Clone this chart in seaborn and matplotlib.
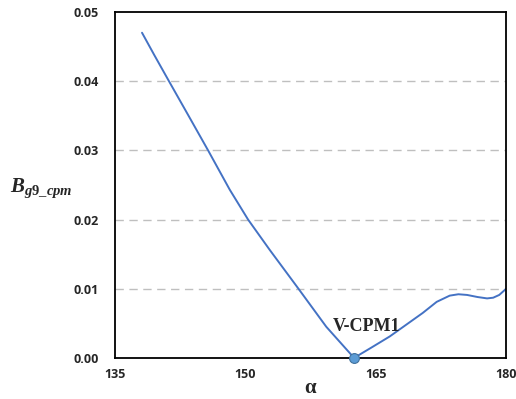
import pandas as pd
import matplotlib
matplotlib.use("Agg")
import matplotlib.pyplot as plt
import seaborn as sns

# values
alpha = [138.1, 139.5, 141.2, 143.5, 145.7, 148.2, 150.3, 152.8, 156.1,
         159.3, 162.5, 164.5, 166.6, 168.5, 170.4, 172.0, 173.5, 174.5, 175.5,
         176.7, 177.8, 178.5, 179.2, 180.0]
b_g9 = [0.0470, 0.0438, 0.0400, 0.0349, 0.0300, 0.0243, 0.0200, 0.0156, 0.0100,
        0.0045, 0.0000, 0.0015, 0.0031, 0.0048, 0.0065, 0.0081, 0.0090, 0.0092,
        0.0091, 0.0088, 0.0086, 0.0087, 0.0091, 0.0100]
min_alpha = [162.5]
min_b = [0.0]
x_ticks = [135, 150, 165, 180]
y_ticks = [0.00, 0.01, 0.02, 0.03, 0.04, 0.05]

df = pd.DataFrame({'alpha': alpha, 'B': b_g9})

sns.set_style('white')
plt.rcParams['font.family'] = ['Open Sans', 'DejaVu Sans']
plt.rcParams['mathtext.fontset'] = 'custom'
plt.rcParams['mathtext.it'] = 'Liberation Serif:italic:bold'
plt.rcParams['mathtext.rm'] = 'Liberation Serif:bold'
plt.rcParams['mathtext.bf'] = 'Liberation Serif:bold'

fig = plt.figure(figsize=(5.16, 3.99), dpi=100)
ax = fig.add_axes([0.223, 0.103, 0.758, 0.867])

sns.lineplot(data=df, x='alpha', y='B', ax=ax, color='#4472C4', linewidth=1.4)
ax.scatter(min_alpha, min_b, s=50, color='#5B9BD5', edgecolor='#41719C',
           linewidth=0.8, zorder=5, clip_on=False)
ax.text(min_alpha[0] + 1.4, 0.0045, 'V-CPM1', ha='center', va='center',
        family='Liberation Serif', fontweight='bold', fontsize=13)

ax.set_xlim(135, 180)
ax.set_ylim(0, 0.05)
ax.set_xticks(x_ticks)
ax.set_yticks(y_ticks)
ax.set_xticklabels([str(t) for t in x_ticks], fontweight='bold', fontsize=9)
ax.set_yticklabels([f'{t:.2f}' for t in y_ticks], fontweight='bold', fontsize=9)
ax.tick_params(axis='x', length=0, pad=7)
ax.tick_params(axis='y', length=0, pad=12)

for yv in y_ticks[1:-1]:
    ax.axhline(yv, color='#BFBFBF', linestyle=(0, (6, 4)), linewidth=1.0, zorder=0)

for s in ax.spines.values():
    s.set_color('black')
    s.set_linewidth(1.3)

ax.set_xlabel(r'$\mathbf{\alpha}$', fontsize=15)
ax.xaxis.set_label_coords(0.5, -0.055)
ax.set_ylabel(r'$B_{g9\_cpm}$', fontsize=15, rotation=0, va='center')
ax.yaxis.set_label_coords(-0.19, 0.49)

fig.savefig('out.png', dpi=100)
